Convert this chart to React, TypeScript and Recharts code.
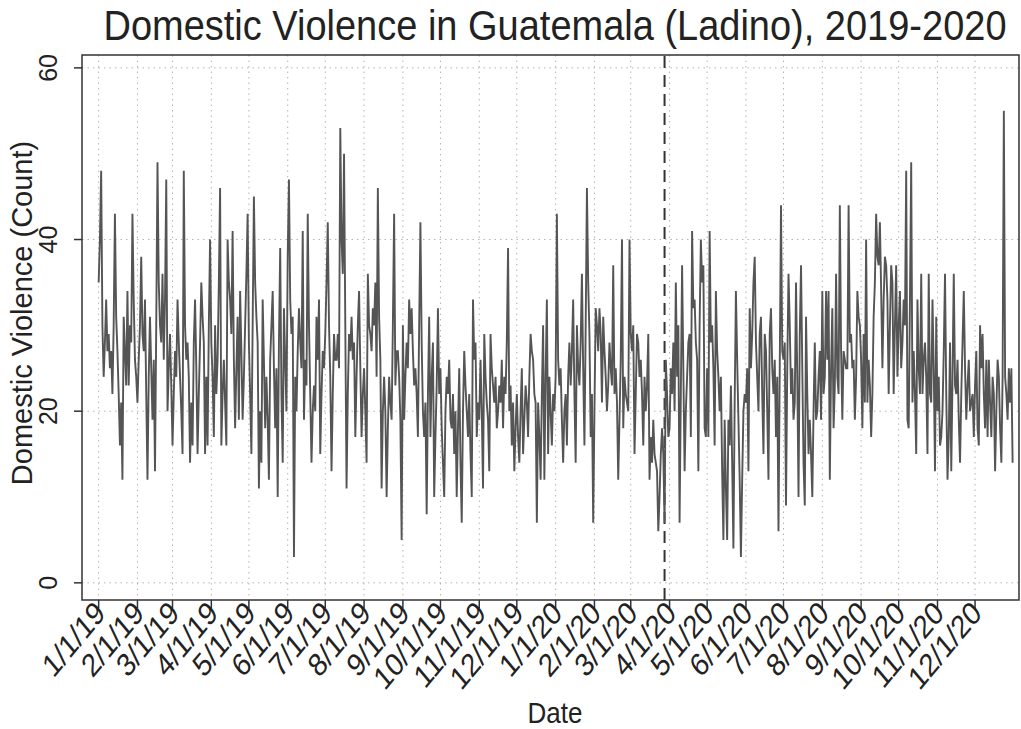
import React from 'react';
import { LineChart, Line, XAxis, YAxis, CartesianGrid, ReferenceLine, ReferenceArea } from 'recharts';

// daily counts (1/1/2019 .. 12/31/2020)
const counts2019 = [
  // Jan
  35, 40, 48, 30, 24, 28, 33, 27, 29, 25, 27, 22, 30, 43, 31, 27, 22, 16, 21, 12, 31, 27, 23, 34, 23, 30, 28, 43, 33, 26, 24,
  // Feb
  21, 26, 30, 38, 29, 27, 33, 22, 12, 24, 31, 25, 19, 26, 13, 30, 49, 35, 30, 28, 36, 26, 33, 47, 20, 25, 29, 23,
  // Mar
  16, 22, 27, 24, 33, 28, 24, 20, 15, 48, 30, 26, 28, 24, 14, 21, 16, 28, 33, 25, 15, 22, 28, 35, 31, 28, 15, 24, 16, 30, 40,
  // Apr
  28, 24, 17, 30, 22, 26, 35, 46, 16, 22, 26, 21, 16, 40, 35, 33, 29, 41, 26, 18, 25, 31, 19, 34, 27, 19, 24, 30, 36, 43,
  // May
  28, 22, 15, 30, 45, 35, 31, 28, 11, 20, 14, 33, 26, 18, 24, 19, 12, 26, 30, 34, 25, 18, 25, 10, 28, 39, 22, 14, 32, 26, 20,
  // Jun
  38, 47, 33, 29, 31, 3, 24, 20, 27, 32, 28, 25, 41, 19, 26, 23, 43, 30, 22, 14, 20, 23, 20, 31, 26, 33, 15, 22, 27, 25,
  // Jul
  29, 35, 42, 30, 24, 13, 22, 29, 26, 26, 29, 25, 53, 40, 36, 50, 30, 11, 22, 29, 27, 31, 26, 28, 17, 24, 30, 34, 25, 17, 22,
  // Aug
  25, 20, 14, 36, 30, 29, 27, 32, 30, 35, 24, 46, 31, 26, 11, 20, 24, 20, 10, 18, 24, 21, 19, 30, 43, 23, 27, 27, 24, 19, 5,
  // Sep
  30, 19, 24, 28, 25, 33, 29, 32, 27, 23, 25, 22, 17, 30, 42, 28, 20, 17, 21, 8, 22, 31, 17, 24, 28, 10, 17, 23, 32, 22,
  // Oct
  25, 18, 14, 10, 20, 24, 22, 26, 19, 18, 22, 15, 20, 10, 18, 25, 14, 7, 20, 27, 23, 20, 17, 22, 15, 10, 33, 26, 28, 17, 21,
  // Nov
  19, 26, 20, 11, 29, 24, 21, 19, 13, 29, 25, 23, 21, 24, 18, 20, 23, 21, 26, 18, 24, 22, 28, 39, 20, 23, 16, 21, 13, 18,
  // Dec
  22, 17, 14, 20, 25, 15, 19, 23, 21, 17, 24, 29, 27, 26, 22, 21, 7, 21, 17, 12, 22, 30, 12, 24, 33, 15, 24, 20, 16, 22, 20,
];

const counts2020 = [
  // Jan
  24, 43, 26, 23, 25, 19, 14, 20, 22, 16, 24, 28, 23, 27, 33, 22, 14, 30, 25, 23, 28, 36, 25, 16, 30, 46, 35, 29, 17, 22, 7,
  // Feb
  20, 32, 30, 27, 32, 29, 21, 31, 27, 24, 20, 23, 28, 25, 23, 37, 22, 25, 21, 12, 19, 26, 40, 18, 24, 22, 21, 20, 40,
  // Mar
  29, 27, 30, 15, 22, 29, 28, 24, 26, 22, 16, 24, 20, 23, 29, 12, 17, 14, 19, 15, 14, 13, 6, 10, 15, 18, 15, 7, 26, 22, 17,
  // Apr
  18, 25, 22, 28, 20, 35, 24, 30, 7, 22, 37, 25, 13, 20, 24, 28, 29, 17, 41, 32, 33, 28, 26, 13, 30, 40, 35, 37, 18, 17,
  // May
  25, 17, 41, 28, 30, 25, 16, 34, 27, 24, 20, 24, 13, 5, 19, 11, 5, 19, 16, 23, 14, 4, 21, 34, 26, 19, 12, 3, 12, 20, 22,
  // Jun
  21, 25, 13, 32, 25, 29, 35, 38, 28, 24, 20, 29, 31, 22, 15, 29, 27, 20, 12, 29, 32, 25, 22, 26, 17, 24, 6, 25, 44, 27,
  // Jul
  26, 28, 9, 25, 36, 30, 22, 25, 19, 21, 35, 24, 10, 29, 37, 25, 14, 9, 31, 22, 15, 19, 15, 10, 20, 28, 19, 20, 24, 27, 19,
  // Aug
  34, 22, 24, 34, 26, 34, 12, 25, 32, 18, 23, 36, 24, 22, 44, 27, 19, 27, 26, 25, 25, 44, 28, 29, 25, 26, 19, 24, 34, 31, 30,
  // Sep
  26, 18, 29, 21, 40, 21, 26, 23, 17, 22, 31, 35, 43, 38, 37, 42, 34, 25, 33, 38, 37, 33, 22, 30, 37, 35, 22, 30, 37, 24,
  // Oct
  30, 34, 25, 28, 33, 30, 48, 19, 18, 33, 49, 21, 27, 22, 15, 33, 25, 22, 36, 22, 26, 28, 24, 15, 36, 22, 21, 33, 25, 13, 31,
  // Nov
  20, 24, 16, 17, 20, 27, 36, 22, 12, 17, 28, 13, 24, 36, 23, 22, 26, 19, 14, 22, 28, 34, 25, 19, 23, 26, 20, 21, 22, 17,
  // Dec
  23, 27, 18, 16, 30, 25, 29, 22, 18, 26, 17, 26, 21, 17, 24, 22, 13, 20, 26, 24, 18, 14, 24, 55, 24, 22, 19, 25, 21, 25, 14,
];

const monthLabels = [
  '1/1/19', '2/1/19', '3/1/19', '4/1/19', '5/1/19', '6/1/19', '7/1/19', '8/1/19', '9/1/19', '10/1/19', '11/1/19', '12/1/19',
  '1/1/20', '2/1/20', '3/1/20', '4/1/20', '5/1/20', '6/1/20', '7/1/20', '8/1/20', '9/1/20', '10/1/20', '11/1/20', '12/1/20',
];
const yTicks = [0, 20, 40, 60];
const lockdownLabel = '3/28/20';

const DAY = 86400000;
const start = Date.UTC(2019, 0, 1);
const dayOf = (label: string) => {
  const [m, d, y] = label.split('/').map(Number);
  return Math.round((Date.UTC(2000 + y, m - 1, d) - start) / DAY);
};

const data = counts2019.concat(counts2020).map((count, day) => ({ day, count }));
const monthTicks = monthLabels.map(dayOf);
const labelByDay: Record<number, string> = {};
monthLabels.forEach((l, i) => (labelByDay[monthTicks[i]] = l));

const FONT = '"Liberation Sans", Arial, Helvetica, sans-serif';
const INK = '#222';

// the reference text looks a little stretched vertically
const DateTick = ({ x, y, payload }: any) => {
  const tx = x + 8;
  const ty = y + 5;
  return (
    <text transform={`translate(${tx}, ${ty}) scale(1, 1.2) rotate(-45)`} textAnchor="end" fontSize={27} fontFamily={FONT} fill={INK}>
      {labelByDay[payload.value]}
    </text>
  );
};

const CountTick = ({ y, payload }: any) => (
  <text x={48} y={y} transform={`rotate(-90, 48, ${y})`} textAnchor="middle" dominantBaseline="central" fontSize={25} fontFamily={FONT} fill={INK}>
    {payload.value}
  </text>
);

export default function App() {
  return (
    <div style={{ position: 'absolute', left: 0, top: 0, width: 1021, height: 729, background: '#fff', fontFamily: FONT }}>
      <LineChart width={1021} height={729} data={data} margin={{ top: 55, right: 2, bottom: 0, left: 0 }}>
        <CartesianGrid stroke="#b4b4b4" strokeDasharray="1.5 4" horizontalValues={yTicks} verticalValues={monthTicks} />
        <XAxis
          dataKey="day"
          type="number"
          domain={[-13.3, 735.1]}
          ticks={monthTicks}
          interval={0}
          height={129}
          tickSize={8}
          tick={<DateTick />}
          axisLine={false}
          tickLine={{ stroke: '#333', strokeWidth: 1.5 }}
          allowDataOverflow
        />
        <YAxis
          type="number"
          domain={[-2, 61.5]}
          ticks={yTicks}
          width={82}
          tickSize={8}
          tick={<CountTick />}
          axisLine={false}
          tickLine={{ stroke: '#333', strokeWidth: 1.5 }}
          allowDataOverflow
        />
        <ReferenceLine x={dayOf(lockdownLabel)} stroke="#333" strokeWidth={2} strokeDasharray="12 7" />
        <Line dataKey="count" type="linear" stroke="#555" strokeWidth={1.9} dot={false} isAnimationActive={false} />
        <ReferenceArea x1={-13.3} x2={735.1} y1={-2} y2={61.5} fill="none" stroke="#333" strokeWidth={1.5} />
      </LineChart>
      <svg width={1021} height={729} style={{ position: 'absolute', left: 0, top: 0, pointerEvents: 'none' }}>
        <text transform="translate(555, 40) scale(1, 1.12)" textAnchor="middle" fontSize={38} fontFamily={FONT} fill={INK}>
          Domestic Violence in Guatemala (Ladino), 2019-2020
        </text>
        <text x={22} y={313} transform="rotate(-90, 22, 313)" textAnchor="middle" dominantBaseline="central" fontSize={29} fontFamily={FONT} fill={INK}>
          Domestic Violence (Count)
        </text>
        <text transform="translate(555, 723) scale(1, 1.12)" textAnchor="middle" fontSize={26} fontFamily={FONT} fill={INK}>
          Date
        </text>
      </svg>
    </div>
  );
}
